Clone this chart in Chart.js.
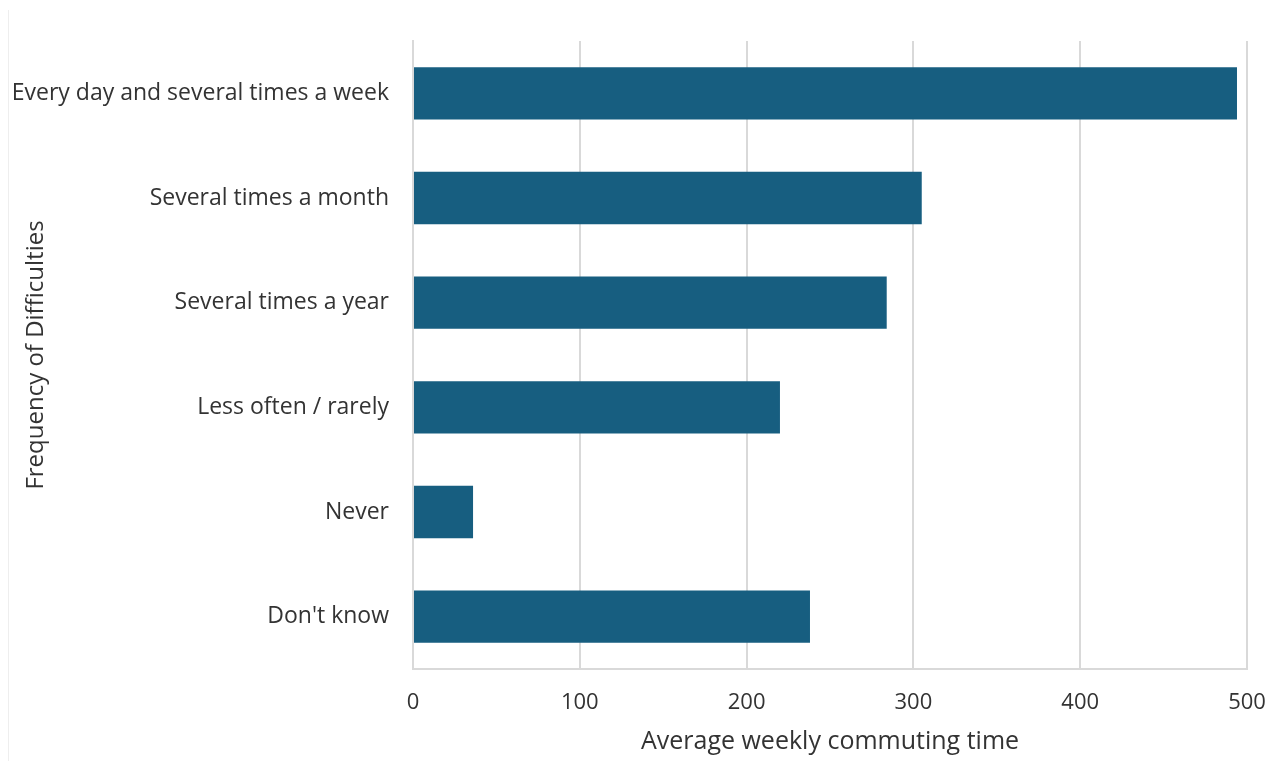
<!DOCTYPE html>
<html>
<head>
<meta charset="utf-8">
<script src="https://cdn.jsdelivr.net/npm/chart.js@4.4.1/dist/chart.umd.min.js"></script>
<style>
  html, body { margin: 0; padding: 0; background: #fff; }
  #wrap { position: relative; width: 1282px; height: 761px; }
  #frame { position: absolute; left: 8px; top: 10px; width: 1px; height: 751px; background: #eee; }
</style>
</head>
<body>
<div id="wrap">
  <div id="frame"></div>
  <canvas id="myChart" width="1282" height="761"></canvas>
</div>
<script>
const categories = [
  'Every day and several times a week',
  'Several times a month',
  'Several times a year',
  'Less often / rarely',
  'Never',
  "Don't know"
];
const commuteTimes = [494, 305, 284, 220, 36, 238];
const xTicks = [0, 100, 200, 300, 400, 500];

const gridColor = '#d9d9d9';
const textColor = '#333333';
const fontFamily = '"Open Sans", Lato, sans-serif';

chart();

function chart() {
    const ctx = document.getElementById('myChart');

    new Chart(ctx, {
        type: 'bar',
        data: {
            labels: categories,
            datasets: [{
                label: 'Average weekly commuting time',
                data: commuteTimes,
                backgroundColor: '#175e80',
                borderWidth: 0,
                barPercentage: 0.5,
                categoryPercentage: 1.0
            }]
        },
        options: {
            indexAxis: 'y',
            responsive: false,
            animation: false,
            layout: { padding: { top: 41, right: 35, left: 0, bottom: 0 } },
            plugins: {
                legend: { display: false },
                tooltip: { enabled: false }
            },
            scales: {
                x: {
                    min: 0,
                    max: 500,
                    afterBuildTicks: axis => { axis.ticks = xTicks.map(v => ({ value: v })); },
                    grid: { color: gridColor, lineWidth: 2, drawTicks: false },
                    border: { color: gridColor, width: 2 },
                    ticks: { color: textColor, padding: 21, font: { family: fontFamily, size: 22 } },
                    title: {
                        display: true,
                        text: 'Average weekly commuting time', // Label for X-axis
                        color: textColor,
                        font: { family: fontFamily, size: 25 },
                        padding: { top: 4, bottom: 4 }
                    },
                    afterFit: axis => {
                        axis.height = 761 - 669;
                        axis.paddingLeft = 0;
                        axis.paddingRight = 0;
                    }
                },
                y: {
                    grid: { display: false, drawTicks: false },
                    border: { color: gridColor, width: 2 },
                    ticks: { color: textColor, padding: 24, font: { family: fontFamily, size: 23 } },
                    title: {
                        display: true,
                        text: 'Frequency of Difficulties', // Label for Y-axis
                        color: textColor,
                        font: { family: fontFamily, size: 24 },
                        padding: { top: 22, bottom: 0 }
                    },
                    afterFit: axis => { axis.width = 413; }
                }
            }
        }
    });
}
</script>
</body>
</html>
